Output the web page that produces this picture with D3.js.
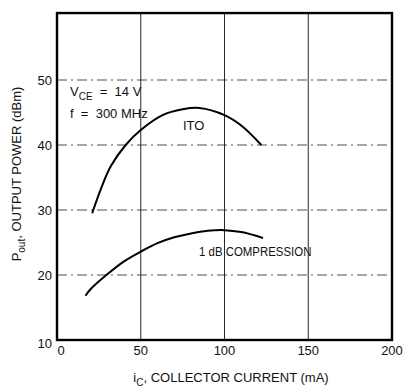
<!DOCTYPE html>
<html>
<head>
<meta charset="utf-8">
<script src="https://cdn.jsdelivr.net/npm/d3@7"></script>
<style>
  body { margin: 0; background: #fff; }
  svg text { font-family: "Liberation Sans", Arial, sans-serif; fill: #111; white-space: pre; }
</style>
</head>
<body>
<div id="chart"></div>
<script>
// collector current (mA) vs output power (dBm)
const itoX = [21, 26, 32, 41, 50, 63, 75, 85, 100, 110, 122];
const itoY = [29.5, 33.1, 36.7, 40, 42.3, 44.6, 45.5, 45.7, 44.6, 43, 40];
const compX = [17, 20, 30, 40, 50, 60, 70, 80, 90, 100, 110, 123];
const compY = [16.8, 17.8, 20.1, 22.1, 23.6, 24.9, 25.8, 26.4, 26.8, 26.9, 26.6, 25.7];
const xTicks = [0, 50, 100, 150, 200];
const yTicks = [10, 20, 30, 40, 50];

const width = 403, height = 388;
const x = d3.scaleLinear().domain([0, 200]).range([57, 392]);
const y = d3.scaleLinear().domain([10, 50]).range([340, 80]);
const yTop = y(60.3);

const svg = d3.select("#chart").append("svg")
  .attr("width", width).attr("height", height);

// grid
svg.append("g")
  .selectAll("line")
  .data(yTicks.slice(1))
  .join("line")
    .attr("x1", x(0)).attr("x2", x(200))
    .attr("y1", d => y(d)).attr("y2", d => y(d))
    .attr("stroke", "#222").attr("stroke-width", 0.8)
    .attr("stroke-dasharray", "10,4,2,4");

svg.append("g")
  .selectAll("line")
  .data(xTicks.slice(1, -1))
  .join("line")
    .attr("x1", d => x(d)).attr("x2", d => x(d))
    .attr("y1", yTop).attr("y2", y(10))
    .attr("stroke", "#111").attr("stroke-width", 0.9);

// frame
svg.append("rect")
  .attr("x", x(0)).attr("y", yTop)
  .attr("width", x(200) - x(0)).attr("height", y(10) - yTop)
  .attr("fill", "none").attr("stroke", "#000").attr("stroke-width", 2.4);

// ticks
svg.append("g").selectAll("text")
  .data(yTicks)
  .join("text")
    .attr("x", x(0) - 5)
    .attr("y", d => y(d) + (d === 10 ? 8 : 5))
    .attr("text-anchor", "end")
    .attr("font-size", 13)
    .text(d => d);

svg.append("g").selectAll("text")
  .data(xTicks)
  .join("text")
    .attr("x", d => x(d) + (d === 0 ? 4 : 0))
    .attr("y", 355)
    .attr("text-anchor", "middle")
    .attr("font-size", 13)
    .text(d => d);

// curves
const line = d3.line().curve(d3.curveCatmullRom);
svg.append("path")
  .attr("d", line(itoX.map((v, i) => [x(v), y(itoY[i])])))
  .attr("fill", "none").attr("stroke", "#000").attr("stroke-width", 2);
svg.append("path")
  .attr("d", line(compX.map((v, i) => [x(v), y(compY[i])])))
  .attr("fill", "none").attr("stroke", "#000").attr("stroke-width", 2);

// annotations
const vce = svg.append("text").attr("x", 70).attr("y", 96).attr("font-size", 13);
vce.append("tspan").text("V");
vce.append("tspan").attr("font-size", 10).attr("dy", 4).text("CE");
vce.append("tspan").attr("dy", -4).text("  =  14 V");
svg.append("text").attr("x", 70).attr("y", 118).attr("font-size", 13).text("f  =  300 MHz");
svg.append("text").attr("x", 183).attr("y", 130).attr("font-size", 13).text("ITO");
svg.append("text").attr("transform", "translate(199,256) scale(0.88,1)")
  .attr("font-size", 13).text("1 dB COMPRESSION");

// axis titles
const yt = svg.append("text")
  .attr("transform", "translate(21,174) rotate(-90)")
  .attr("text-anchor", "middle")
  .attr("font-size", 13);
yt.append("tspan").text("P");
yt.append("tspan").attr("font-size", 10).attr("dy", 4).text("out");
yt.append("tspan").attr("dy", -4).text(", OUTPUT POWER (dBm)");

const xt = svg.append("text")
  .attr("x", 231).attr("y", 382)
  .attr("text-anchor", "middle")
  .attr("font-size", 13);
xt.append("tspan").text("i");
xt.append("tspan").attr("font-size", 10).attr("dy", 4).text("C");
xt.append("tspan").attr("dy", -4).text(", COLLECTOR CURRENT (mA)");
</script>
</body>
</html>
